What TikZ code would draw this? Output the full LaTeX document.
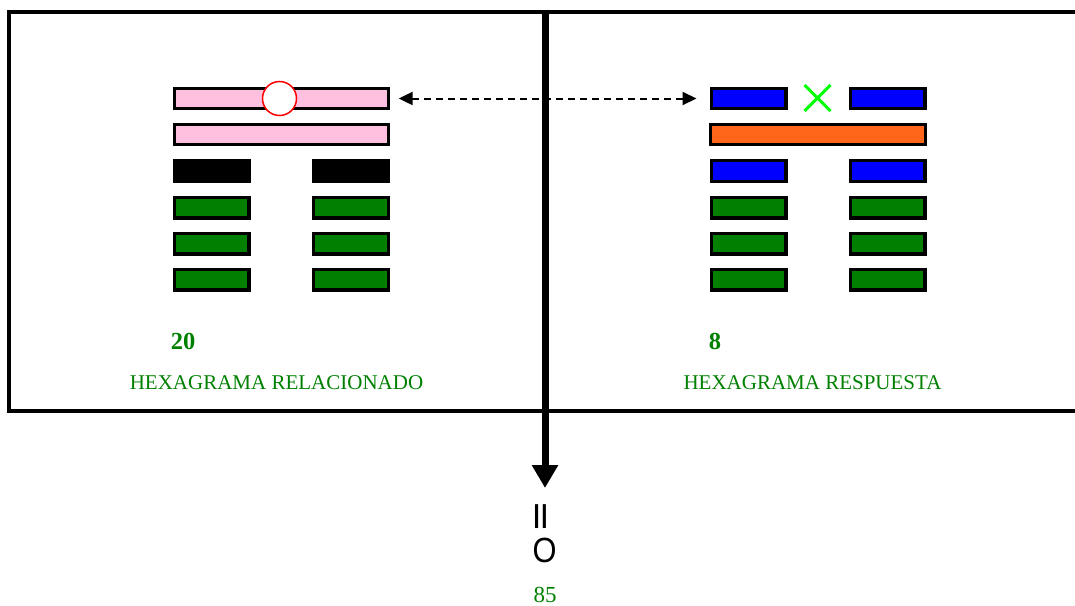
\documentclass[tikz,border=0pt]{standalone}
\usepackage{fontspec}
\setmainfont{Liberation Serif}
\newfontfamily\arialf{Liberation Sans}
\usetikzlibrary{arrows.meta}
\definecolor{pinkbar}{HTML}{FFC0E0}
\definecolor{bluebar}{HTML}{0000FF}
\definecolor{orangebar}{HTML}{FF661A}
\definecolor{greenbar}{HTML}{007F00}
\definecolor{txtgreen}{HTML}{008000}
\definecolor{xgreen}{HTML}{00FF00}
\begin{document}
\begin{tikzpicture}[x=1pt,y=-1pt,
  bar/.style={draw=black,line width=3.3pt,inner sep=0pt,minimum height=20.5pt},
  fullbar/.style={bar,minimum width=214pt},
  halfbar/.style={bar,minimum width=74.7pt},
  lbl/.style={text=txtgreen,font=\fontsize{21}{25}\selectfont,inner sep=0pt},
  numlbl/.style={text=txtgreen,font=\fontsize{24.5}{28}\selectfont\bfseries,inner sep=0pt},
  frameline/.style={line width=4pt}]
\useasboundingbox (0,0) rectangle (1075,605);
% frame
\draw[frameline] (1075,12) -- (9,12) -- (9,411) -- (1075,411);
% left hexagram
\node[fullbar,fill=pinkbar] (l1) at (281.5,98.5) {};
\node[fullbar,fill=pinkbar] (l2) at (281.5,134.5) {};
\node[halfbar,fill=black] (l3a) at (211.7,171) {};
\node[halfbar,fill=black] (l3b) at (351,171) {};
\node[halfbar,fill=greenbar] (l4a) at (211.7,207.8) {};
\node[halfbar,fill=greenbar] (l4b) at (351,207.8) {};
\node[halfbar,fill=greenbar] (l5a) at (211.7,243.8) {};
\node[halfbar,fill=greenbar] (l5b) at (351,243.8) {};
\node[halfbar,fill=greenbar] (l6a) at (211.7,279.8) {};
\node[halfbar,fill=greenbar] (l6b) at (351,279.8) {};
\node[circle,draw=red,fill=white,line width=1.5pt,minimum size=34pt,inner sep=0pt] (circ) at (279.5,98.5) {};
% right hexagram
\node[halfbar,fill=bluebar] (r1a) at (748.5,98.5) {};
\node[halfbar,fill=bluebar] (r1b) at (887.5,98.5) {};
\node[fullbar,fill=orangebar,minimum width=215pt] (r2) at (818,134.5) {};
\node[halfbar,fill=bluebar] (r3a) at (748.5,171) {};
\node[halfbar,fill=bluebar] (r3b) at (887.5,171) {};
\node[halfbar,fill=greenbar] (r4a) at (748.5,207.8) {};
\node[halfbar,fill=greenbar] (r4b) at (887.5,207.8) {};
\node[halfbar,fill=greenbar] (r5a) at (748.5,243.8) {};
\node[halfbar,fill=greenbar] (r5b) at (887.5,243.8) {};
\node[halfbar,fill=greenbar] (r6a) at (748.5,279.8) {};
\node[halfbar,fill=greenbar] (r6b) at (887.5,279.8) {};
\coordinate (xc) at (817.5,98);
\draw[xgreen,line width=3pt] ([shift={(-13,-13)}]xc) -- ([shift={(13,13)}]xc);
\draw[xgreen,line width=3pt] ([shift={(-13,13)}]xc) -- ([shift={(13,-13)}]xc);
% dashed double arrow
\draw[line width=2pt,dash pattern=on 7pt off 5pt,{Triangle[width=13pt,length=14pt]}-{Triangle[width=13pt,length=14pt]}] ([xshift=8.5pt]l1.east) -- ([xshift=-13pt]r1a.west);
% labels
\node[numlbl] (n20) at (183,341) {20};
\node[lbl] (t1) at (276.5,383) {HEXAGRAMA RELACIONADO};
\node[numlbl] (n8) at (715,341) {8};
\node[lbl] (t2) at (812.5,383) {HEXAGRAMA RESPUESTA};
% vertical arrow
\coordinate (vtop) at (545,10);
\coordinate (vtip) at (545,488);
\draw[line width=7pt,-{Triangle[width=25pt,length=23pt]}] (vtop) -- (vtip);
\node[font=\arialf\bfseries\fontsize{34}{40}\selectfont,rotate=90,inner sep=0pt] (eq) at (542.7,516.5) {\scalebox{1.4}[0.85]{=}};
\node[font=\arialf\fontsize{35}{40}\selectfont,inner sep=0pt] (zero) at (544.5,550) {\scalebox{0.88}[1]{O}};
\node[lbl,font=\fontsize{23}{27}\selectfont] (n85) at (545,594.5) {85};
\end{tikzpicture}
\end{document}
